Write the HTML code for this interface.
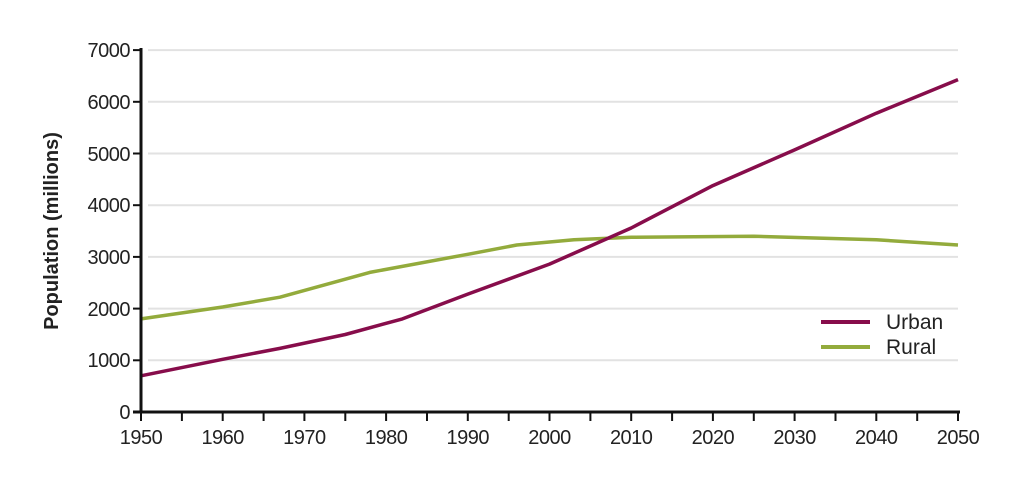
<!DOCTYPE html>
<html><head><style>body{margin:0;background:#fff}svg{display:block}text{font-family:"Liberation Sans",Arial,sans-serif;fill:#222}</style></head><body>
<svg width="1024" height="479" viewBox="0 0 1024 479">
<g stroke="#e2e2e2" stroke-width="2">
<line x1="148" x2="958" y1="360.3" y2="360.3"/><line x1="148" x2="958" y1="308.6" y2="308.6"/><line x1="148" x2="958" y1="256.9" y2="256.9"/><line x1="148" x2="958" y1="205.2" y2="205.2"/><line x1="148" x2="958" y1="153.5" y2="153.5"/><line x1="148" x2="958" y1="101.8" y2="101.8"/><line x1="148" x2="958" y1="50.1" y2="50.1"/>
</g>
<g font-size="20" text-anchor="end" letter-spacing="-0.5">
<text x="130" y="419">0</text><text x="130" y="367">1000</text><text x="130" y="316">2000</text><text x="130" y="264">3000</text><text x="130" y="212">4000</text><text x="130" y="161">5000</text><text x="130" y="109">6000</text><text x="130" y="57">7000</text>
</g>
<text transform="translate(58,231) rotate(-90)" font-size="20" font-weight="bold" text-anchor="middle">Population (millions)</text>
<polyline fill="none" stroke="#93ab3c" stroke-width="3.5" stroke-linejoin="round" points="141,318.9 222.7,307 279.9,297.2 369.8,272.4 467.8,254.3 516.8,245 574,239.8 631.2,237.3 753.8,236.2 876.3,239.8 958,245"/>
<polyline fill="none" stroke="#870d4b" stroke-width="3.5" stroke-linejoin="round" points="141,375.8 222.7,359.3 279.9,348.4 345.3,334.5 402.4,318.9 467.8,294.1 549.5,264.1 631.2,228 712.9,185.6 794.6,149.9 876.3,113.2 958,79.6"/>
<g stroke="#111" stroke-width="3">
<line x1="141" y1="48" x2="141" y2="413"/><line x1="133" y1="412" x2="960" y2="412"/>
</g>
<g stroke="#111" stroke-width="2">
<line x1="133" y1="50.1" x2="141" y2="50.1"/><line x1="133" y1="101.8" x2="141" y2="101.8"/><line x1="133" y1="153.5" x2="141" y2="153.5"/><line x1="133" y1="205.2" x2="141" y2="205.2"/><line x1="133" y1="256.9" x2="141" y2="256.9"/><line x1="133" y1="308.6" x2="141" y2="308.6"/><line x1="133" y1="360.3" x2="141" y2="360.3"/>
<line x1="141" y1="412" x2="141" y2="421"/><line x1="181.9" y1="412" x2="181.9" y2="421"/><line x1="222.7" y1="412" x2="222.7" y2="421"/><line x1="263.6" y1="412" x2="263.6" y2="421"/><line x1="304.4" y1="412" x2="304.4" y2="421"/><line x1="345.3" y1="412" x2="345.3" y2="421"/><line x1="386.1" y1="412" x2="386.1" y2="421"/><line x1="427" y1="412" x2="427" y2="421"/><line x1="467.8" y1="412" x2="467.8" y2="421"/><line x1="508.7" y1="412" x2="508.7" y2="421"/><line x1="549.5" y1="412" x2="549.5" y2="421"/><line x1="590.4" y1="412" x2="590.4" y2="421"/><line x1="631.2" y1="412" x2="631.2" y2="421"/><line x1="672.1" y1="412" x2="672.1" y2="421"/><line x1="712.9" y1="412" x2="712.9" y2="421"/><line x1="753.8" y1="412" x2="753.8" y2="421"/><line x1="794.6" y1="412" x2="794.6" y2="421"/><line x1="835.5" y1="412" x2="835.5" y2="421"/><line x1="876.3" y1="412" x2="876.3" y2="421"/><line x1="917.2" y1="412" x2="917.2" y2="421"/><line x1="958" y1="412" x2="958" y2="421"/>
</g>
<g font-size="20" text-anchor="middle" letter-spacing="-0.5">
<text x="141" y="444">1950</text><text x="222.7" y="444">1960</text><text x="304.4" y="444">1970</text><text x="386.1" y="444">1980</text><text x="467.8" y="444">1990</text><text x="549.5" y="444">2000</text><text x="631.2" y="444">2010</text><text x="712.9" y="444">2020</text><text x="794.6" y="444">2030</text><text x="876.3" y="444">2040</text><text x="958" y="444">2050</text>
</g>
<line x1="821" y1="322" x2="870" y2="322" stroke="#870d4b" stroke-width="4"/>
<line x1="821" y1="347" x2="870" y2="347" stroke="#93ab3c" stroke-width="4"/>
<text x="886" y="329" font-size="21">Urban</text>
<text x="886" y="354" font-size="21">Rural</text>
</svg>
</body></html>
